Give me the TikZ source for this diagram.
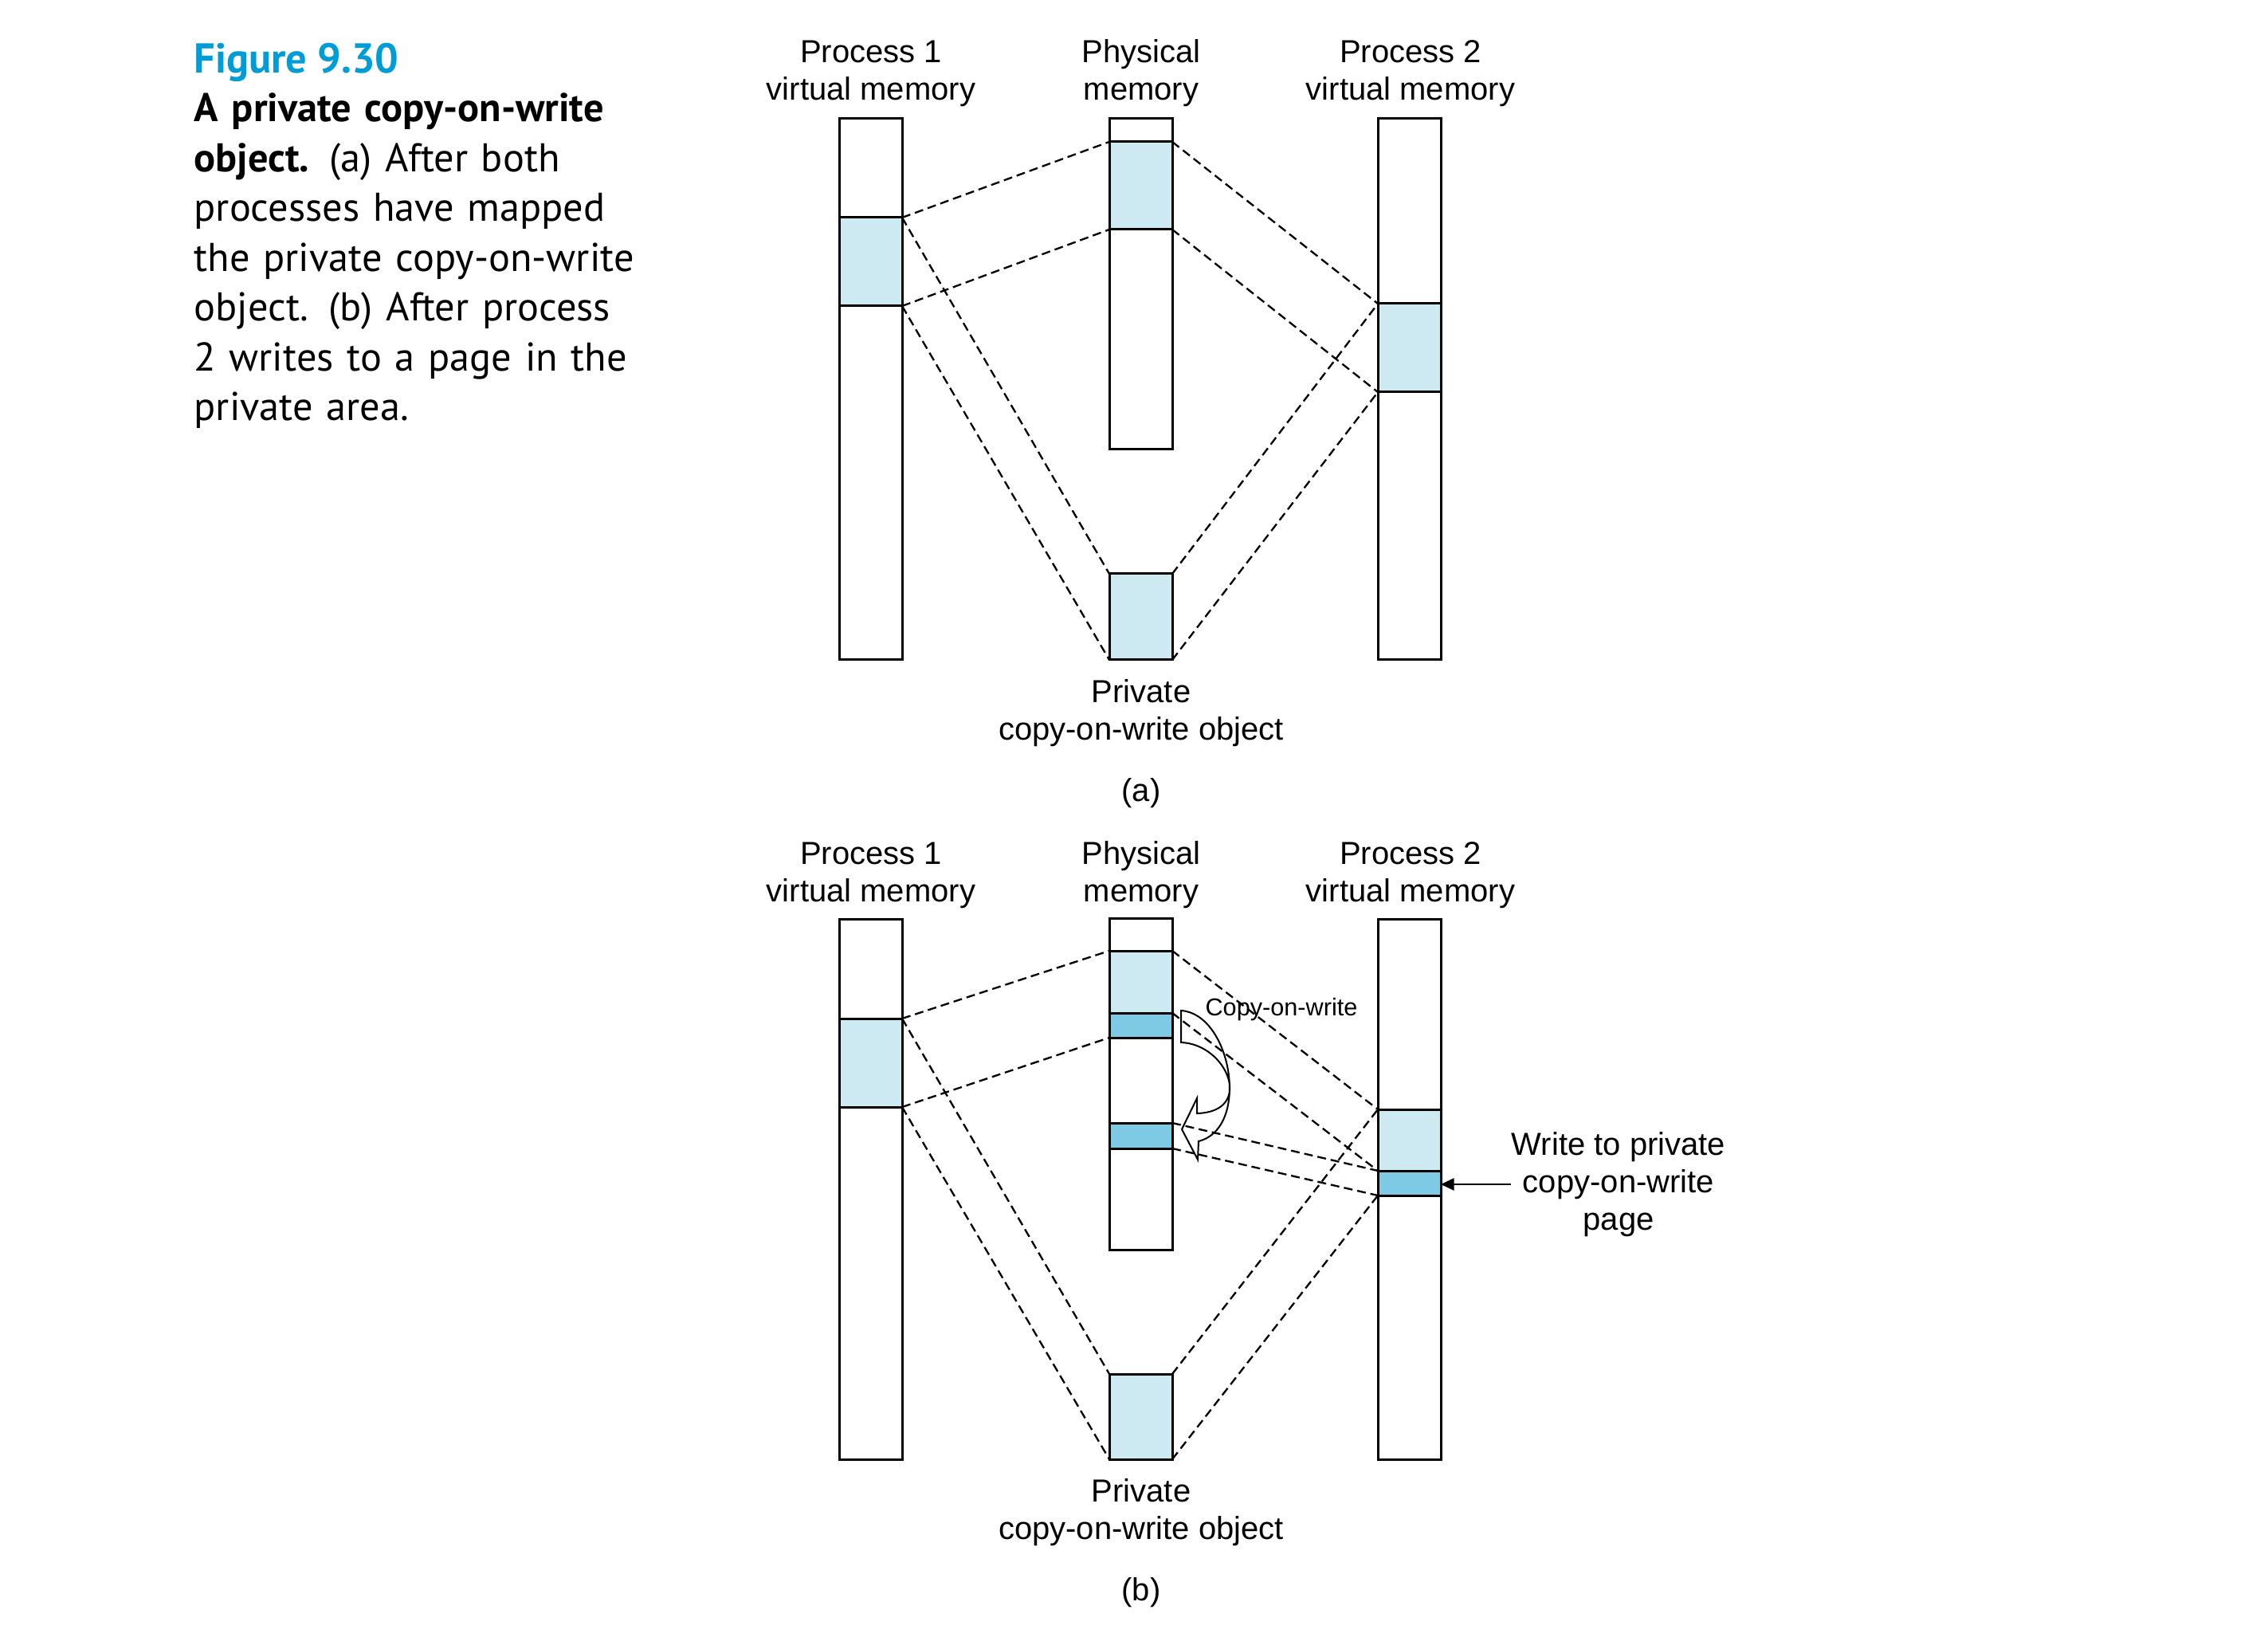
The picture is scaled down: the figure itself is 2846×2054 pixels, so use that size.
\documentclass[tikz,border=0pt]{standalone}
\usepackage{fontspec}
\setmainfont{Liberation Sans}
\newfontfamily\capfont{PT Sans}
\usetikzlibrary{arrows.meta}
\definecolor{figblue}{RGB}{0,156,214}
\definecolor{pagefill}{RGB}{205,233,242}
\definecolor{cowfill}{RGB}{126,201,227}
\newcommand{\pxu}{0.3pt}
\tikzset{
  bar/.style={draw, line width=0.9pt, fill=white, minimum width=79*\pxu, inner sep=0pt, outer sep=0pt, anchor=north west},
  pagebox/.style={bar, fill=pagefill},
  cowbox/.style={bar, fill=cowfill},
  map/.style={line width=0.7pt, dash pattern=on 3.3pt off 1.8pt},
  lbl/.style={align=center, font=\fontsize{12}{14.1}\selectfont, inner sep=0pt}
}
\begin{document}
\begin{tikzpicture}[x=\pxu, y=-\pxu]
                \useasboundingbox (0,0) rectangle (2846,2054);
                % Caption
                \node[anchor=base west, inner sep=0pt, text=figblue, font=\capfont\bfseries\fontsize{15.7}{18.75}\selectfont] (figno) at (243,92) {Figure 9.30};
                \node[anchor=base west, inner sep=0pt, text width=800*\pxu, align=left, font=\capfont\fontsize{15.1}{18.75}\selectfont] (captxt) at (243,153)
                  {\textbf{A private copy-on-write}\\ \textbf{object.} (a) After both\\ processes have mapped\\ the private copy-on-write\\ object. (b) After process\\ 2 writes to a page in the\\ private area.};

                % (a) After both processes have mapped the object
                \node[bar, minimum height=679*\pxu] (vm1a) at (1053,149) {};
                \node[pagebox, minimum height=111*\pxu] (pg1a) at (1053,273) {};
                \node[bar, minimum height=415*\pxu] (pma) at (1392,149) {};
                \node[pagebox, minimum height=110*\pxu] (ppa) at (1392,178) {};
                \node[bar, minimum height=679*\pxu] (vm2a) at (1729,149) {};
                \node[pagebox, minimum height=111*\pxu] (pg2a) at (1729,381) {};
                \node[pagebox, minimum height=108*\pxu] (obja) at (1392,720) {};

                \node[lbl] (l1a) at (1093,92) {Process 1\\virtual memory};
                \node[lbl] (l2a) at (1432,92) {Physical\\memory};
                \node[lbl] (l3a) at (1770,92) {Process 2\\virtual memory};
                \node[lbl] (l4a) at (1432,895) {Private\\copy-on-write object};
                \node[lbl] (capa) at (1432,995) {(a)};

                \draw[map] (pg1a.north east) -- (ppa.north west);
                \draw[map] (pg1a.south east) -- (ppa.south west);
                \draw[map] (pg1a.north east) -- (obja.north west);
                \draw[map] (pg1a.south east) -- (obja.south west);
                \draw[map] (ppa.north east) -- (pg2a.north west);
                \draw[map] (ppa.south east) -- (pg2a.south west);
                \draw[map] (obja.north east) -- (pg2a.north west);
                \draw[map] (obja.south east) -- (pg2a.south west);

                % (b) After process 2 writes to the private area
                \node[bar, minimum height=677*\pxu] (vm1b) at (1053,1154) {};
                \node[pagebox, minimum height=111*\pxu] (pg1b) at (1053,1278) {};
                \node[bar, minimum height=415*\pxu] (pmb) at (1392,1153) {};
                \node[pagebox, minimum height=78*\pxu] (ppb) at (1392,1193) {};
                \node[cowbox, minimum height=31*\pxu] (cwb) at (1392,1271) {};
                \node[cowbox, minimum height=32*\pxu] (cpb) at (1392,1409) {};
                \node[bar, minimum height=677*\pxu] (vm2b) at (1729,1154) {};
                \node[pagebox, minimum height=77*\pxu] (pg2b) at (1729,1392) {};
                \node[cowbox, minimum height=31*\pxu] (wpb) at (1729,1469) {};
                \node[pagebox, minimum height=107*\pxu] (objb) at (1392,1724) {};

                \node[lbl] (l1b) at (1093,1098) {Process 1\\virtual memory};
                \node[lbl] (l2b) at (1432,1098) {Physical\\memory};
                \node[lbl] (l3b) at (1770,1098) {Process 2\\virtual memory};
                \node[lbl] (l4b) at (1432,1898) {Private\\copy-on-write object};
                \node[lbl] (capb) at (1432,1998) {(b)};
                \node[lbl, font=\fontsize{9.2}{11}\selectfont] (cowl) at (1608,1267) {Copy-on-write};
                \node[lbl] (wrl) at (2031,1486) {Write to private\\copy-on-write\\page};

                \draw[map] (pg1b.north east) -- (ppb.north west);
                \draw[map] (pg1b.south east) -- (cwb.south west);
                \draw[map] (pg1b.north east) -- (objb.north west);
                \draw[map] (pg1b.south east) -- (objb.south west);
                \draw[map] (ppb.north east) -- (pg2b.north west);
                \draw[map] (ppb.south east) -- (pg2b.south west);
                \draw[map] (cpb.north east) -- (wpb.north west);
                \draw[map] (cpb.south east) -- (wpb.south west);
                \draw[map] (objb.north east) -- (pg2b.north west);
                \draw[map] (objb.south east) -- (wpb.south west);

                % curved copy arrow
                \draw[line width=0.6pt, line join=miter] (1482,1268) .. controls (1545,1272) and (1570,1415) .. (1504,1432)
                  -- (1503,1455) -- (1483,1417) -- (1502,1378) -- (1502,1397)
                  .. controls (1575,1395) and (1540,1310) .. (1482,1308) -- cycle;

                \draw[line width=0.6pt, -{Triangle[length=5pt,width=4.6pt]}] (wrl.west) -- (wrl.west -| wpb.east);
            \end{tikzpicture}
\end{document}
